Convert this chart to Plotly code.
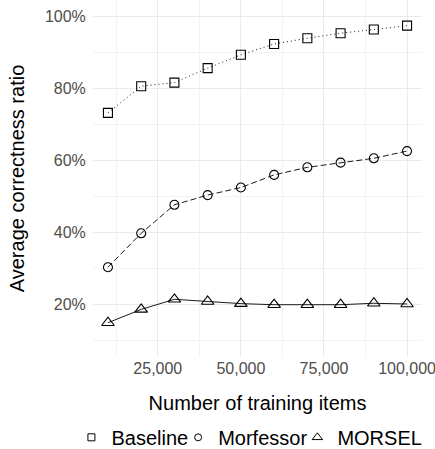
import plotly.graph_objects as go

x_items = [10000, 20000, 30000, 40000, 50000, 60000, 70000, 80000, 90000, 100000]
baseline = [73.2, 80.6, 81.6, 85.6, 89.3, 92.3, 93.9, 95.3, 96.3, 97.4]
morfessor = [30.4, 39.8, 47.7, 50.4, 52.5, 56.0, 58.1, 59.4, 60.6, 62.6]
morsel = [15.0, 18.7, 21.5, 20.9, 20.3, 20.0, 20.0, 20.0, 20.4, 20.2]

series_names = ["Baseline", "Morfessor", "MORSEL"]
x_ticks = [25000, 50000, 75000, 100000]
x_tick_text = ["25,000", "50,000", "75,000", "100,000"]
y_ticks = [20, 40, 60, 80, 100]
y_tick_text = ["20%", "40%", "60%", "80%", "100%"]

FONT = "Liberation Sans, Arial, Helvetica, sans-serif"

styles = [
    (baseline, "square-open", 9, "1px,3px"),
    (morfessor, "circle-open", 9, "6px,3px"),
    (morsel, "triangle-up-open", 11, "solid"),
]

fig = go.Figure()
for name, (vals, sym, size, dash) in zip(series_names, styles):
    fig.add_trace(go.Scatter(
        x=x_items, y=vals, name=name, mode="lines+markers", showlegend=False,
        line=dict(color="black", width=0.9, dash=dash),
        marker=dict(symbol=sym, size=size, color="black",
                    line=dict(color="black", width=1.1)),
    ))
# legend keys (marker only, like the compact ggplot keys)
for name, (vals, sym, size, dash) in zip(series_names, styles):
    fig.add_trace(go.Scatter(
        x=[None], y=[None], name=name, mode="markers", showlegend=True,
        marker=dict(symbol=sym, size=size - 2, color="black",
                    line=dict(color="black", width=1)),
    ))

fig.update_layout(
    width=435, height=449,
    margin=dict(l=93, r=13, t=0, b=92, autoexpand=False),
    paper_bgcolor="white", plot_bgcolor="white",
    font=dict(family=FONT, color="black", size=20),
    showlegend=True,
    legend=dict(orientation="h", xref="paper", x=-0.02, xanchor="left",
                yref="paper", y=-0.225, yanchor="middle",
                font=dict(size=20), itemwidth=30, indentation=-15,
                bgcolor="rgba(0,0,0,0)"),
)
fig.update_xaxes(
    range=[5500, 104500], tickvals=x_ticks, ticktext=x_tick_text,
    showgrid=True, gridcolor="#EBEBEB", gridwidth=1.1,
    minor=dict(showgrid=True, dtick=12500, tick0=0, gridcolor="#F3F3F3", gridwidth=0.6),
    zeroline=False, showline=False, ticks="",
    ticklabeloverflow="allow", automargin=True,
    tickfont=dict(size=16, color="#4D4D4D"),
    title=dict(text="Number of training items", font=dict(size=20), standoff=19),
)
fig.update_yaxes(
    range=[5.5, 104.5], tickvals=y_ticks, ticktext=y_tick_text,
    showgrid=True, gridcolor="#EBEBEB", gridwidth=1.1,
    minor=dict(showgrid=True, dtick=20, tick0=10, gridcolor="#F3F3F3", gridwidth=0.6),
    zeroline=False, showline=False, ticks="outside", ticklen=3, tickcolor="rgba(0,0,0,0)",
    automargin=True,
    tickfont=dict(size=16, color="#4D4D4D"),
    title=dict(text="Average correctness ratio", font=dict(size=20), standoff=14),
)

fig.write_html("out.html", config={"displayModeBar": False},
               post_script="document.body.style.margin='0';")
